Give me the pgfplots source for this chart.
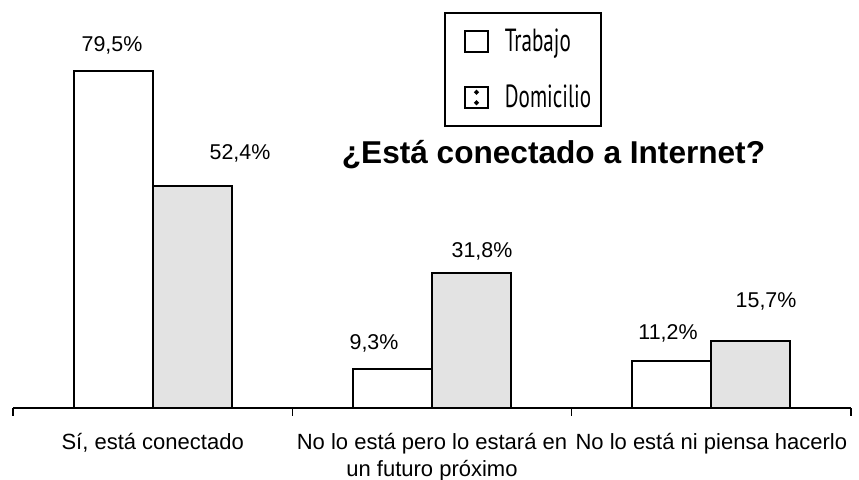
\documentclass[border=0pt]{standalone}
\usepackage{fontspec}
\setmainfont{Liberation Sans}
\newfontfamily\legfont[FakeStretch=0.66]{PT Sans}
\usepackage{pgfplots}
\usepackage{pgfplotstable}
\pgfplotsset{compat=1.18}

% x = category centre, y = percent
\pgfplotstableread{
x    y
0.5  79.5
1.5  9.3
2.5  11.2
}\trabajo
\pgfplotstableread{
x    y
0.5  52.4
1.5  31.8
2.5  15.7
}\domicilio
% data labels, placed where the chart has them
\pgfplotstableread{
x       y      lbl
0.3545  85.7   79,5
0.8127  60.0   52,4
1.2925  15.35  9,3
1.679   37.07  31,8
2.345   17.7   11,2
2.696   25.27  15,7
}\labels

\begin{document}
\begin{tikzpicture}
\useasboundingbox (-6.5pt,-36pt) rectangle (423pt,204pt);
\begin{axis}[
    scale only axis, width=419pt, height=203.3pt,
    xmin=0, xmax=3, ymin=0, ymax=96,
    axis x line*=bottom, axis y line=none,
    axis line style={line width=0.75pt},
    xtick={0.5,1.5,2.5},
    xticklabels={{Sí, está conectado},{No lo está pero lo estará en\\un futuro próximo},{No lo está ni piensa hacerlo}},
    minor xtick={0,1,2,3},
    major tick length=0pt, minor tick length=4pt, tick align=outside,
    tick style={black, line width=0.7pt},
    xticklabel style={font=\fontsize{11}{13.5}\selectfont, align=center, yshift=-9pt},
    clip=false,
    title={¿Está conectado a Internet?},
    title style={at={(0.645,0.593)}, anchor=center, font=\fontsize{15.8}{18}\selectfont\bfseries},
    legend style={at={(0.5143,0.974)}, anchor=north west, draw=black, line width=1pt,
        font=\legfont\fontsize{16}{19}\selectfont, inner xsep=5pt, inner ysep=8pt,
        row sep=15pt, column sep=8pt, nodes={inner sep=0pt}, cells={anchor=west}},
]
\addplot[ybar, bar width=0.283, bar shift=-0.1414, fill=white, draw=black, line width=1pt,
    legend image code/.code={\path (-4.5pt,0pt);
        \draw[line width=0.9pt, fill=white] (0pt,-5.25pt) rectangle (11.5pt,5.25pt);}]
    table[x=x, y=y] {\trabajo};
\addplot[ybar, bar width=0.283, bar shift=0.1414, fill=black!11, draw=black, line width=1pt,
    legend image code/.code={\path (-4.5pt,0pt);
        \draw[line width=0.9pt, fill=white] (0pt,-5.25pt) rectangle (11.5pt,5.25pt);
        \fill (5.75pt,2.6pt) circle (0.6pt); \fill (5.75pt,-2.6pt) circle (0.6pt);}]
    table[x=x, y=y] {\domicilio};
\legend{Trabajo, Domicilio}
\addplot[only marks, mark=none, point meta=explicit symbolic,
    nodes near coords={\pgfplotspointmeta\%}, nodes near coords align=center,
    every node near coord/.append style={font=\fontsize{10.7}{12}\selectfont, black, inner sep=0pt}]
    table[x=x, y=y, meta=lbl] {\labels};
\end{axis}
\end{tikzpicture}
\end{document}
